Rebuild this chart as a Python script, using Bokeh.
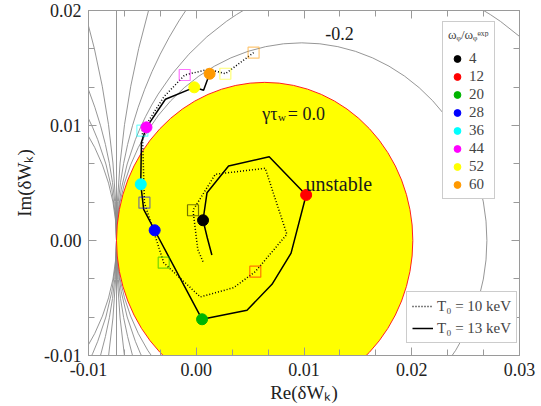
import numpy as np
from bokeh.plotting import figure
from bokeh.models import (Range1d, LinearAxis, FixedTicker, Label, Legend, LegendItem,
                          ColumnDataSource, CustomJSTickFormatter, PrintfTickFormatter)
from bokeh.embed import file_html
from bokeh.resources import INLINE

# ---------------- data ----------------
omega_labels = ["4", "12", "20", "28", "36", "44", "52", "60"]
omega_colors = ["#000000", "#ff0000", "#00b400", "#0000ff",
                "#00ffff", "#ff00ff", "#ffff00", "#ff9900"]

# T0 = 13 keV : filled markers (omega = 4 ... 60)
re13_mark = [0.00063, 0.01020, 0.00054, -0.00386, -0.00515, -0.00462, -0.00018, 0.00124]
im13_mark = [0.00176, 0.00396, -0.00685, 0.00089, 0.00489, 0.00984, 0.01332, 0.01450]
# T0 = 13 keV : full path (solid line)
re13_path = [0.00145, 0.00103, 0.00063, 0.00100, 0.00300, 0.00677, 0.01020, 0.00880,
             0.00703, 0.00471, 0.00054, -0.00386, -0.00488, -0.00515, -0.00509,
             -0.00462, -0.00286, -0.00018, 0.00068, 0.00124]
im13_path = [-0.00126, 0.00022, 0.00176, 0.00416, 0.00648, 0.00729, 0.00396, -0.00110,
             -0.00381, -0.00607, -0.00685, 0.00089, 0.00271, 0.00489, 0.00854,
             0.00984, 0.01228, 0.01332, 0.01306, 0.01450]

# T0 = 10 keV : open squares (omega = 4 ... 60)
re10_mark = [-0.00030, 0.00548, -0.00302, -0.00481, -0.00500, -0.00107, 0.00270, 0.00532]
im10_mark = [0.00263, -0.00271, -0.00193, 0.00329, 0.00955, 0.01439, 0.01450, 0.01633]
# T0 = 10 keV : full path (dotted line)
re10_path = [0.00063, 0.00014, -0.00030, 0.00177, 0.00640, 0.00841, 0.00548, 0.00347,
             0.00038, -0.00302, -0.00481, -0.00500, -0.00300, -0.00107, 0.00115,
             0.00270, 0.00532]
im10_path = [-0.00184, -0.00077, 0.00263, 0.00576, 0.00628, 0.00054, -0.00271, -0.00410,
             -0.00491, -0.00193, 0.00329, 0.00955, 0.01250, 0.01439, 0.01489,
             0.01450, 0.01633]

# growth-rate contours gamma*tau_w : circles tangent at the pole of the dispersion relation
pole_re = -0.0074          # all contours meet here
r_stable = 0.01375         # radius of the gamma*tau_w = 0 contour (stability boundary)
contour_levels = [-0.2, -0.4, -0.6, -0.8, -1.2, -1.4, -1.6, -1.8]

x_ticks = [-0.01, 0.0, 0.01, 0.02, 0.03]
x_tick_labels = ["-0.01", "0.00", "0.01", "0.02", "0.03"]
y_ticks = [-0.01, 0.0, 0.01, 0.02]
y_tick_labels = ["-0.01", "0.00", "0.01", "0.02"]

# ---------------- figure ----------------
FONT = "Liberation Serif"
AX = "#9a9a9a"

p = figure(width=541, height=406, x_range=Range1d(-0.01, 0.03), y_range=Range1d(-0.01, 0.02),
           output_backend="svg", toolbar_location=None,
           min_border_left=88, min_border_right=22, min_border_top=10, min_border_bottom=51)
p.xgrid.visible = False
p.ygrid.visible = False
p.outline_line_color = AX
p.background_fill_color = "white"

def minor_of(ticks):
    out = []
    for a, b in zip(ticks[:-1], ticks[1:]):
        out += [a + (b - a) / 3.0, a + 2 * (b - a) / 3.0]
    return out

def style_axis(ax, ticks, labels, show_labels):
    ax.ticker = FixedTicker(ticks=ticks, minor_ticks=minor_of(ticks))
    ax.axis_line_color = AX
    ax.major_tick_line_color = AX
    ax.minor_tick_line_color = AX
    ax.major_tick_in = 8
    ax.major_tick_out = 0
    ax.minor_tick_in = 6
    ax.minor_tick_out = 0
    if show_labels:
        ax.formatter = PrintfTickFormatter(format="%.2f")
        ax.major_label_overrides = dict(zip(ticks, labels))
        ax.major_label_text_font = FONT
        ax.major_label_text_font_size = "18px"
        ax.major_label_text_color = "#222222"
        ax.major_label_standoff = 7
        ax.axis_label_text_font = FONT
        ax.axis_label_text_font_size = "19px"
        ax.axis_label_text_font_style = "normal"
        ax.axis_label_text_color = "#222222"
    else:
        ax.formatter = CustomJSTickFormatter(code="return ''")
        ax.major_label_text_font_size = "0px"
        ax.major_label_standoff = 0

style_axis(p.xaxis[0], x_ticks, x_tick_labels, True)
style_axis(p.yaxis[0], y_ticks, y_tick_labels, True)
p.xaxis[0].axis_label = "Re(δWₖ)"
p.xaxis[0].axis_label_standoff = 3
p.yaxis[0].axis_label = "Im(δWₖ)"
p.yaxis[0].axis_label_standoff = 6
top_ax = LinearAxis()
right_ax = LinearAxis()
style_axis(top_ax, x_ticks, x_tick_labels, False)
style_axis(right_ax, y_ticks, y_tick_labels, False)
p.add_layout(top_ax, "above")
p.add_layout(right_ax, "right")

# contours
radii = [r_stable / (1.0 + c) for c in contour_levels]
cx = [pole_re + r for r in radii]
cw = [2 * abs(r) for r in radii]
p.ellipse(x=cx, y=[0.0] * len(cx), width=cw, height=cw,
          fill_color=None, line_color="#8a8a8a", line_width=0.9)
p.segment(x0=[pole_re], y0=[-1.0], x1=[pole_re], y1=[1.0], line_color="#8a8a8a", line_width=0.9)

# stability boundary (gamma tau_w = 0), filled
p.ellipse(x=[pole_re + r_stable], y=[0.0], width=[2 * r_stable], height=[2 * r_stable],
          fill_color="#ffff00", line_color="#ff2020", line_width=1)

# paths
r_dot = p.line(re10_path, im10_path, line_color="black", line_width=1.5, line_dash="1 2")
r_sol = p.line(re13_path, im13_path, line_color="black", line_width=1.5)

src10 = ColumnDataSource(dict(x=re10_mark, y=im10_mark, c=omega_colors))
p.scatter("x", "y", source=src10, marker="square", size=11, fill_color=None,
          line_color="c", line_alpha=0.55, line_width=1.2)
src13 = ColumnDataSource(dict(x=re13_mark, y=im13_mark, c=omega_colors, lab=omega_labels))
r_pts = p.scatter("x", "y", source=src13, marker="circle", size=11,
                  fill_color="c", line_color="c")

# legends
leg1 = Legend(items=[LegendItem(label=lab, renderers=[r_pts], index=i)
                     for i, lab in enumerate(omega_labels)],
              location=(354, 156), title="ωᵩ/ωᵩᵉˣᵖ",
              title_text_font=FONT, title_text_font_size="13px", title_text_font_style="normal",
              title_standoff=7, label_text_font=FONT, label_text_font_size="15px",
              glyph_width=18, glyph_height=17, label_height=17, spacing=1, padding=5,
              label_standoff=3, border_line_color=AX, background_fill_alpha=1.0, margin=0)
leg2 = Legend(items=[LegendItem(label="T₀ = 10 keV", renderers=[r_dot]),
                     LegendItem(label="T₀ = 13 keV", renderers=[r_sol])],
              location=(318, 12),
              label_text_font=FONT, label_text_font_size="15px",
              glyph_width=21, glyph_height=18, label_height=18, spacing=4, padding=5,
              label_standoff=4, border_line_color=AX, background_fill_alpha=1.0, margin=0)
p.add_layout(leg1)
p.add_layout(leg2)

# text annotations
def lab(x, y, t, size, align="left"):
    p.add_layout(Label(x=x, y=y, text=t, text_font=FONT, text_font_size=size,
                       text_align=align, text_baseline="alphabetic", text_color="#1a1a1a"))

lab(0.01329, 0.01799, "-0.2", "18px", "center")
lab(0.00754, 0.01101, "γτ", "18px", "right")
lab(0.00758, 0.01075, "w", "11px")
lab(0.00850, 0.01101, "= 0.0", "18px")
lab(0.01014, 0.00491, "unstable", "20px")

open("out.html", "w").write(file_html(p, INLINE))
